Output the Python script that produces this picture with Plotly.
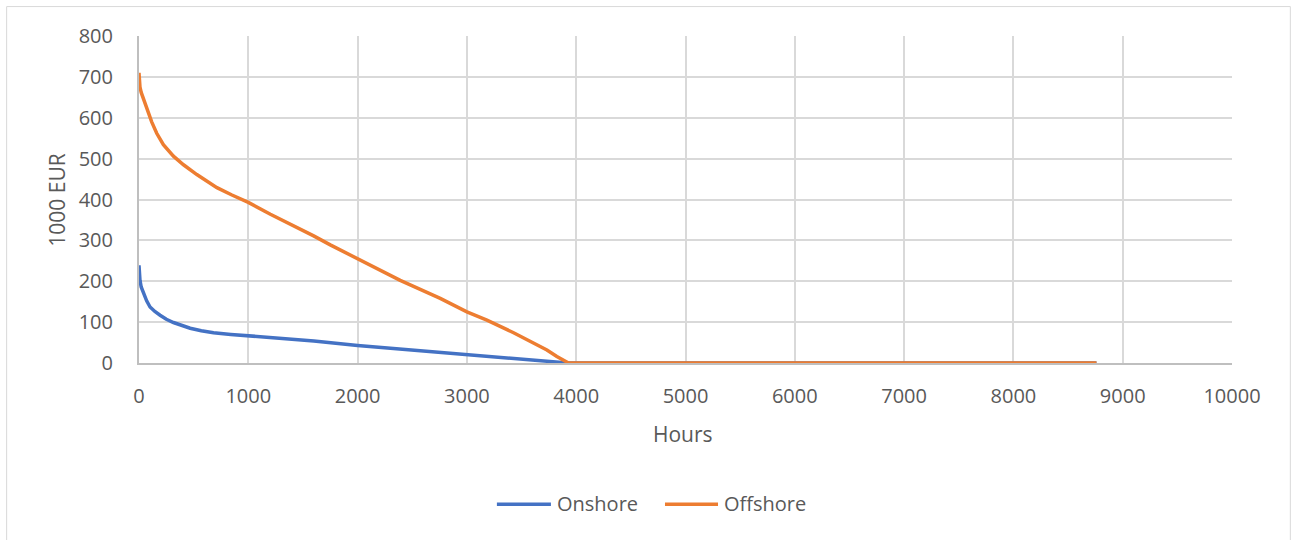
import plotly.graph_objects as go

# ---- data ----
onshore_hours = [0, 4, 9, 20, 40, 70, 101, 145, 193, 250, 315, 390, 468, 570, 682, 840, 1000, 1300, 1600,
                 2000, 2500, 3000, 3300, 3579, 3800, 3924, 8760]
onshore_values = [239, 215, 202, 186, 170, 152, 137, 126, 117, 107, 99, 91, 85, 79, 74, 70, 67, 60, 54,
                  43, 32, 21, 14, 8, 3, 0, 0]

offshore_hours = [0, 4, 9, 20, 40, 60, 86, 116, 162, 223, 315, 407, 529, 713, 850, 1000, 1202, 1293, 1445,
                  1598, 1750, 1902, 2000, 2207, 2390, 2573, 2756, 3000, 3183, 3427, 3610, 3732, 3823, 3910,
                  3930, 8760]
offshore_values = [710, 688, 675, 662, 647, 632, 615, 590, 562, 534, 506, 485, 461, 429, 411, 393, 364,
                   352, 332, 311, 289, 268, 255, 226, 202, 180, 158, 125, 105, 74, 50, 32, 16, 2, 0, 0]

series_names = ["Onshore", "Offshore"]
series_colors = ["#4472C4", "#ED7D31"]
x_ticks = [0, 1000, 2000, 3000, 4000, 5000, 6000, 7000, 8000, 9000, 10000]
y_ticks = [0, 100, 200, 300, 400, 500, 600, 700, 800]
x_title = "Hours"
y_title = "1000 EUR"

FONT = "Open Sans"
TXT = "#595959"

fig = go.Figure()
fig.add_trace(go.Scatter(x=onshore_hours, y=onshore_values, mode="lines", name=series_names[0],
                         line=dict(color=series_colors[0], width=3.5), showlegend=False))
fig.add_trace(go.Scatter(x=offshore_hours, y=offshore_values, mode="lines", name=series_names[1],
                         line=dict(color=series_colors[1], width=3.5), showlegend=False))

W, H = 1291, 540
L, R, T, B = 139.3, 59.3, 35.5, 176.7
pw = W - L - R
ph = H - T - B

def px(x):
    return (x - L) / pw

def py(y):
    return (H - B - y) / ph

fig.update_layout(
    width=W, height=H,
    margin=dict(l=L, r=R, t=T, b=B, pad=0),
    paper_bgcolor="white", plot_bgcolor="white",
    font=dict(family=FONT, size=20, color=TXT),
    xaxis=dict(range=[0, 10000], tickvals=x_ticks, ticktext=[str(v) for v in x_ticks],
               showgrid=True, gridcolor="#d9d9d9", gridwidth=1.5,
               showline=True, linecolor="#bfbfbf", linewidth=2,
               zeroline=False, ticks="", ticklabelstandoff=14,
               tickfont=dict(family=FONT, size=20, color=TXT)),
    yaxis=dict(range=[0, 800], tickvals=y_ticks, ticktext=[str(v) for v in y_ticks],
               showgrid=True, gridcolor="#d9d9d9", gridwidth=1.5,
               showline=True, linecolor="#bfbfbf", linewidth=2,
               zeroline=False, ticks="", ticklabelstandoff=20,
               tickfont=dict(family=FONT, size=20, color=TXT)),
)

shapes = [
    # outer chart border
    dict(type="rect", xref="paper", yref="paper", x0=px(7), x1=px(1290), y0=py(548), y1=py(6),
         line=dict(color="#d9d9d9", width=1), fillcolor="rgba(0,0,0,0)", layer="below"),
]

annotations = [
    dict(text=x_title, xref="paper", yref="paper", x=px(683), y=py(434), showarrow=False,
         xanchor="center", yanchor="middle", font=dict(family=FONT, size=21, color=TXT)),
    dict(text=y_title, xref="paper", yref="paper", x=px(57), y=py(200), showarrow=False,
         textangle=-90, xanchor="center", yanchor="middle", font=dict(family=FONT, size=21, color=TXT)),
]

# manual legend
legend_items = [(497, 551, 555), (665, 718, 722)]
for (x0, x1, tx), name, col in zip(legend_items, series_names, series_colors):
    shapes.append(dict(type="line", xref="paper", yref="paper", x0=px(x0), x1=px(x1),
                       y0=py(505), y1=py(505), line=dict(color=col, width=3.5)))
    annotations.append(dict(text=name, xref="paper", yref="paper", x=px(tx), y=py(504),
                            showarrow=False, xanchor="left", yanchor="middle",
                            font=dict(family=FONT, size=20, color=TXT)))

fig.update_layout(shapes=shapes, annotations=annotations)

fig.write_html("out.html", config={"displayModeBar": False},
               post_script="document.body.style.margin='0';document.body.style.padding='0';")
